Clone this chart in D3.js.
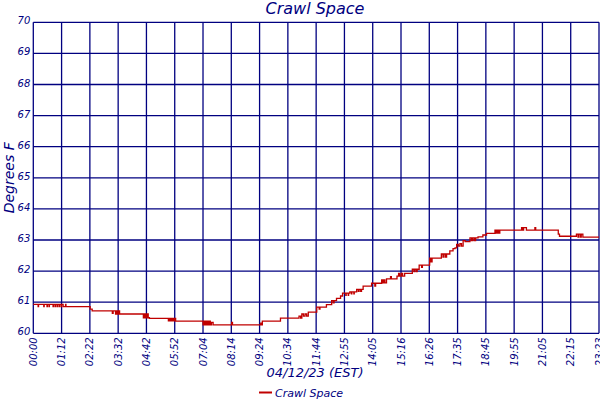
<!DOCTYPE html>
<html>
<head>
<meta charset="utf-8">
<script src="https://cdn.jsdelivr.net/npm/d3@7"></script>
<style>
  body { margin: 0; background: #fff; }
  text { font-family: "DejaVu Sans", Verdana, sans-serif; font-style: italic; fill: #000080; }
</style>
</head>
<body>
<svg id="chart" width="600" height="400"></svg>
<script>
// readings: minutes after midnight, degrees F (each value holds until the next)
var minutes = [
    0, 12, 13, 26, 27, 34, 35, 39, 40, 49, 50, 54, 55, 59, 60, 64, 65, 69, 70, 74,
    80, 81, 141, 146, 196, 198, 204, 207, 210, 212, 214, 217, 273, 276, 279, 282, 285, 288,
    335, 338, 341, 344, 347, 350, 353, 421, 424, 427, 430, 433, 436, 439, 442, 446, 492, 494,
    564, 566, 568, 570, 613, 659, 663, 666, 670, 674, 678, 682, 703, 709, 711, 727, 740, 744,
    746, 752, 762, 767, 775, 776, 781, 782, 785, 789, 790, 795, 796, 802, 806, 808, 812, 814,
    818, 839, 847, 849, 864, 867, 869, 872, 876, 886, 888, 902, 906, 909, 913, 916, 921, 940,
    944, 946, 950, 952, 957, 963, 965, 983, 986, 989, 992, 1012, 1016, 1018, 1022, 1025, 1033,
    1041, 1046, 1050, 1054, 1058, 1062, 1066, 1071, 1083, 1087, 1090, 1094, 1097, 1103, 1115,
    1124, 1145, 1148, 1151, 1154, 1157, 1211, 1214, 1216, 1221, 1223, 1244, 1246, 1302, 1305,
    1347, 1351, 1353, 1357, 1359, 1363, 1403
];
var temps = [
    60.93, 60.86, 60.93, 60.86, 60.93, 60.86, 60.93, 60.86, 60.93, 60.86, 60.93, 60.86, 60.93, 60.86, 60.93, 60.86, 60.93, 60.86, 60.93, 60.86,
    60.93, 60.86, 60.78, 60.72, 60.64, 60.72, 60.62, 60.72, 60.62, 60.72, 60.62, 60.62, 60.50, 60.62, 60.50, 60.62, 60.50, 60.48,
    60.40, 60.48, 60.40, 60.48, 60.40, 60.48, 60.39, 60.27, 60.39, 60.27, 60.39, 60.27, 60.39, 60.27, 60.35, 60.27, 60.35, 60.27,
    60.33, 60.27, 60.39, 60.39, 60.49, 60.55, 60.49, 60.62, 60.55, 60.62, 60.55, 60.68, 60.84, 60.78, 60.84, 60.92, 61.05, 60.98,
    61.05, 61.12, 61.20, 61.29, 61.22, 61.29, 61.22, 61.29, 61.33, 61.27, 61.33, 61.27, 61.33, 61.41, 61.35, 61.41, 61.35, 61.41,
    61.52, 61.61, 61.52, 61.61, 61.72, 61.62, 61.72, 61.62, 61.75, 61.82, 61.75, 61.84, 61.93, 61.84, 61.93, 61.84, 61.93, 62.06,
    61.98, 62.06, 61.98, 62.06, 62.19, 62.12, 62.19, 62.42, 62.30, 62.42, 62.42, 62.55, 62.45, 62.55, 62.45, 62.55, 62.65,
    62.72, 62.75, 62.86, 62.80, 62.88, 62.80, 62.98, 62.95, 63.07, 62.98, 63.07, 62.98, 63.07, 63.10, 63.16,
    63.21, 63.32, 63.22, 63.32, 63.22, 63.32, 63.40, 63.32, 63.40, 63.40, 63.32, 63.40, 63.32, 63.19, 63.12,
    63.19, 63.09, 63.19, 63.09, 63.19, 63.09, 63.09
];
var timeLabels = ["00:00", "01:12", "02:22", "03:32", "04:42", "05:52", "07:04", "08:14", "09:24", "10:34",
                  "11:44", "12:55", "14:05", "15:16", "16:26", "17:35", "18:45", "19:55", "21:05", "22:15", "23:23"];
var tempTicks = [60, 61, 62, 63, 64, 65, 66, 67, 68, 69, 70];

function draw_chart() {
    var readings = minutes.map(function(m, i) { return { t: m, v: temps[i] }; });

    var svg = d3.select("#chart"),
        plotL = 33.3, plotR = 599, plotT = 22.3, plotB = 333.3,
        navy = "#000080";

    var x = d3.scaleLinear().domain([0, 1403]).range([plotL, plotR]),
        xTick = d3.scalePoint().domain(timeLabels).range([plotL, plotR]),
        y = d3.scaleLinear().domain([60, 70]).range([plotB, plotT]);

    // grid
    svg.append("g").selectAll("line")
        .data(tempTicks)
      .enter().append("line")
        .attr("x1", plotL).attr("x2", plotR)
        .attr("y1", function(d) { return y(d); })
        .attr("y2", function(d) { return y(d); })
        .style("stroke", navy).style("stroke-width", 1.3);

    svg.append("g").selectAll("line")
        .data(timeLabels)
      .enter().append("line")
        .attr("x1", function(d) { return xTick(d); })
        .attr("x2", function(d) { return xTick(d); })
        .attr("y1", plotT).attr("y2", plotB)
        .style("stroke", navy).style("stroke-width", 1.3);

    // y labels
    svg.append("g").selectAll("text")
        .data(tempTicks)
      .enter().append("text")
        .attr("x", plotL - 3)
        .attr("y", function(d) { return y(d) - 1; })
        .attr("text-anchor", "end")
        .attr("dominant-baseline", "middle")
        .style("font-size", "10px")
        .text(function(d) { return d; });

    // x labels, rotated
    svg.append("g").selectAll("text")
        .data(timeLabels)
      .enter().append("text")
        .attr("transform", function(d) { return "translate(" + (xTick(d) + 3.5) + "," + (plotB + 4) + ") rotate(-90)"; })
        .attr("text-anchor", "end")
        .style("font-size", "10px")
        .text(function(d) { return d; });

    // series
    var line = d3.line()
        .x(function(d) { return x(d.t); })
        .y(function(d) { return y(d.v); })
        .curve(d3.curveStepAfter);

    svg.append("path")
        .datum(readings)
        .attr("d", line)
        .style("fill", "none")
        .style("stroke", "#c00000")
        .style("stroke-width", 1.3);

    // titles
    svg.append("text")
        .attr("x", 315).attr("y", 14)
        .attr("text-anchor", "middle")
        .style("font-size", "16px")
        .text("Crawl Space");

    svg.append("text")
        .attr("transform", "translate(14," + ((plotT + plotB) / 2) + ") rotate(-90)")
        .attr("text-anchor", "middle")
        .style("font-size", "14px")
        .text("Degrees F");

    svg.append("text")
        .attr("x", 315).attr("y", 377)
        .attr("text-anchor", "middle")
        .style("font-size", "13px")
        .text("04/12/23 (EST)");

    // legend
    svg.append("line")
        .attr("x1", 259).attr("x2", 272)
        .attr("y1", 392.5).attr("y2", 392.5)
        .style("stroke", "#c00000").style("stroke-width", 2);

    svg.append("text")
        .attr("x", 275).attr("y", 396.5)
        .style("font-size", "11px")
        .text("Crawl Space");
}

draw_chart();
</script>
</body>
</html>
